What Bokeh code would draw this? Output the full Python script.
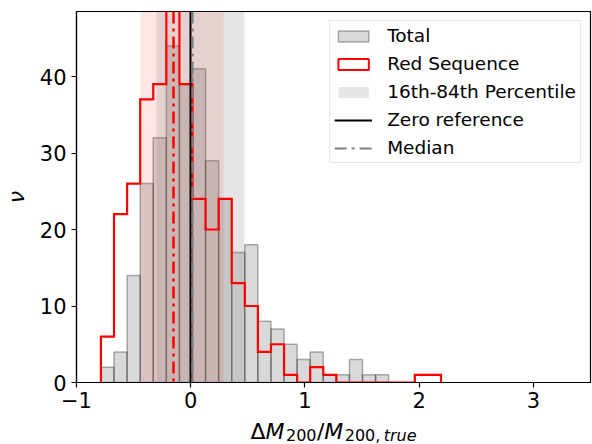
import numpy as np
from bokeh.plotting import figure
from bokeh.layouts import column
from bokeh.models import Legend, LegendItem, FixedTicker, Range1d
from bokeh.core.properties import value
from bokeh.embed import file_html
from bokeh.resources import INLINE

# ---- data ----
bin_start = -0.786
bin_width = 0.1145
total_counts = [2, 4, 14, 26, 32, 44, 39, 41, 29, 24, 17, 18, 8, 7, 5, 3, 4, 1, 1, 3, 1, 1, 0, 0, 0, 0]
red_counts = [6, 22, 26, 37, 39, 50, 39, 24, 20, 24, 13, 10, 4, 5, 1, 0, 2, 1, 0, 0, 0, 0, 0, 0, 1, 1]
total_p16, total_p84 = -0.301, 0.473
red_p16, red_p84 = -0.444, 0.291
total_median = 0.015
red_median = -0.149
zero_ref = 0.0
x_ticks = [-1, 0, 1, 2, 3]
y_ticks = [0, 10, 20, 30, 40]
x_lim = (-1.0, 3.5)
y_lim = (0.0, 48.5)
legend_labels = ["Total", "Red Sequence", "16th-84th Percentile", "Zero reference", "Median"]

FONT = "DejaVu Sans"
W, H = 592, 417
BL, BR, BT, BB = 74, 2, 11, 35
XLAB_H = 27
NAN = float("nan")

edges = bin_start + bin_width * np.arange(len(total_counts) + 1)

p = figure(width=W, height=H, x_range=Range1d(*x_lim), y_range=Range1d(*y_lim),
           output_backend="svg", toolbar_location=None,
           min_border_left=BL, min_border_right=BR, min_border_top=BT, min_border_bottom=BB)
p.background_fill_color = "white"
p.border_fill_color = "white"
p.outline_line_color = "black"
p.outline_line_width = 1.2
p.outline_line_alpha = 1.0
p.grid.visible = False

for ax in p.axis:
    ax.major_label_text_font = FONT
    ax.major_label_text_font_size = "21px"
    ax.major_label_text_color = "black"
    ax.axis_line_color = "black"
    ax.axis_line_width = 1.2
    ax.major_tick_line_color = "black"
    ax.major_tick_line_width = 1.2
    ax.major_tick_out = 5
    ax.major_tick_in = 0
    ax.minor_tick_out = 0
    ax.minor_tick_in = 0
p.xaxis.ticker = FixedTicker(ticks=x_ticks)
p.yaxis.ticker = FixedTicker(ticks=y_ticks)
p.xaxis.major_label_overrides = {t: (str(t).replace("-", "\u2212")) for t in x_ticks}
p.xaxis.major_label_standoff = 4
p.yaxis.major_label_standoff = 5
p.yaxis.axis_label = "\u03bd"
p.yaxis.axis_label_text_font = FONT
p.yaxis.axis_label_text_font_size = "22px"
p.yaxis.axis_label_text_font_style = "italic"
p.yaxis.axis_label_text_color = "black"
p.yaxis.axis_label_standoff = 8

# total histogram
tl, tr, tt = [], [], []
for k, c in enumerate(total_counts):
    if c > 0:
        tl.append(edges[k]); tr.append(edges[k + 1]); tt.append(c)
r_total = p.quad(left=tl, right=tr, top=tt, bottom=0, fill_color="gray", fill_alpha=0.3,
                 line_color="black", line_alpha=0.3, line_width=1.5)

# percentile bands
p.vstrip(x0=[red_p16], x1=[red_p84], fill_color="red", fill_alpha=0.1, line_alpha=0)
p.vstrip(x0=[total_p16], x1=[total_p84], fill_color="gray", fill_alpha=0.2, line_alpha=0)

# red step histogram
sx, sy = [edges[0]], [0]
for k, c in enumerate(red_counts):
    sx += [edges[k], edges[k + 1]]
    sy += [c, c]
sx.append(edges[-1]); sy.append(0)
p.line(sx, sy, line_color="red", line_width=2.2, line_join="miter")

# reference lines
DASHDOT = "12 5 3 5"
p.vspan(x=[zero_ref], line_color="black", line_width=2)
p.vspan(x=[total_median], line_color="gray", line_width=2.2, line_dash=DASHDOT)
p.vspan(x=[red_median], line_color="red", line_width=2.5, line_dash=DASHDOT)

# legend proxies (NaN data: nothing drawn in the plot)
r_red_leg = p.quad(left=[NAN], right=[NAN], top=[NAN], bottom=[NAN], fill_color="white",
                   fill_alpha=1.0, line_color="red", line_width=2)
r_band_leg = p.quad(left=[NAN], right=[NAN], top=[NAN], bottom=[NAN], fill_color="gray",
                    fill_alpha=0.2, line_alpha=0)
r_zero_leg = p.line([NAN], [NAN], line_color="black", line_width=2)
r_med_leg = p.line([NAN], [NAN], line_color="gray", line_width=2.2, line_dash=DASHDOT)

legend = Legend(items=[LegendItem(label=lab, renderers=[r]) for lab, r in
                       zip(legend_labels, [r_total, r_red_leg, r_band_leg, r_zero_leg, r_med_leg])],
                location="top_right", label_text_font=FONT, label_text_font_size="18.5px",
                label_text_color="black",
                glyph_width=38, glyph_height=14, label_standoff=15, spacing=7, padding=4, margin=9,
                border_line_color="#cccccc", border_line_width=1, background_fill_color="white",
                background_fill_alpha=0.8)
p.add_layout(legend)

# x label strip (composed label with subscripts); frame aligned with the main frame
FW = W - BL - BR
xf = figure(width=W, height=XLAB_H, x_range=Range1d(0, FW), y_range=Range1d(0, XLAB_H),
            output_backend="svg", toolbar_location=None, x_axis_type=None, y_axis_type=None,
            min_border_left=BL, min_border_right=BR, min_border_top=0, min_border_bottom=0)
xf.outline_line_color = None
xf.grid.visible = False
xf.background_fill_color = "white"
xf.border_fill_color = "white"

main, sub = 22, 16
em = {"\u0394": 0.684, "M": 0.863, "0": 0.636, "2": 0.636, "/": 0.337, ",": 0.318,
      "t": 0.392, "r": 0.411, "u": 0.634, "e": 0.615}
# (text, size, style, middle-anchor height in the strip, extra spacing after)
pieces = [("\u0394", main, "normal", 13.4, 0), ("M", main, "italic", 13.4, 1.5),
          ("200", sub, "normal", 9.5, 0.5), ("/", main, "normal", 13.4, 0),
          ("M", main, "italic", 13.4, 1.5), ("200,", sub, "normal", 9.5, 3.5),
          ("true", sub, "italic", 9.5, 0)]
widths = [sum(em[ch] for ch in t) * s + extra for t, s, st, yy, extra in pieces]
cur = FW / 2 - sum(widths) / 2
for (t, s, st, yy, extra), w in zip(pieces, widths):
    xf.text(x=[cur], y=[yy], text=[t], text_align="left",
            text_baseline="middle", text_font=value(FONT),
            text_font_size=f"{s}px", text_font_style=st, text_color="black")
    cur += w

layout = column(p, xf, spacing=0)
open("out.html", "w").write(file_html(layout, INLINE))
